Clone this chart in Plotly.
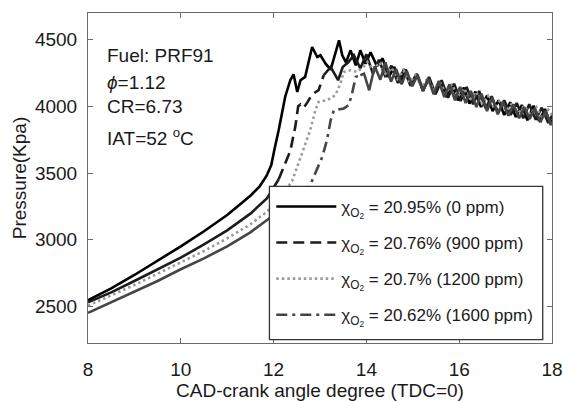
import numpy as np
import plotly.graph_objects as go

# ---------------- data ----------------
labels = [
    "χ<sub>O<sub>2</sub></sub> = 20.95% (0 ppm)",
    "χ<sub>O<sub>2</sub></sub> = 20.76% (900 ppm)",
    "χ<sub>O<sub>2</sub></sub> = 20.7% (1200 ppm)",
    "χ<sub>O<sub>2</sub></sub> = 20.62% (1600 ppm)",
]

x_0ppm = [8, 8.5, 9, 9.5, 10, 10.5, 11, 11.5, 11.7, 11.85, 11.95, 12.02, 12.11, 12.25, 12.36, 12.43,
          12.51, 12.58, 12.68, 12.83, 12.94, 13.01, 13.12, 13.23, 13.41, 13.48, 13.56, 13.66, 13.77,
          13.87, 13.98, 14.09, 14.23, 14.35, 14.48, 14.60, 14.72, 14.85, 14.97, 15.10, 15.22, 15.35,
          15.47, 15.60, 15.72, 15.85, 15.97, 16.10, 16.22, 16.35, 16.47, 16.60, 16.72, 16.85, 16.97,
          17.10, 17.22, 17.35, 17.47, 17.60, 17.72, 17.85, 17.97, 18.08]
p_0ppm = [2545, 2635, 2735, 2840, 2950, 3063, 3185, 3330, 3400, 3480, 3560, 3680, 3822, 4072, 4196, 4240,
          4108, 4196, 4221, 4445, 4370, 4383, 4320, 4276, 4495, 4383, 4330, 4420, 4308,
          4420, 4320, 4405, 4300, 4360, 4220, 4295, 4180, 4275, 4160, 4235, 4120, 4210,
          4095, 4185, 4070, 4165, 4045, 4140, 4020, 4110, 3995, 4080, 3965, 4045, 3935,
          4030, 3920, 4010, 3895, 4005, 3890, 3980, 3865, 3945]

x_900ppm = [8, 8.5, 9, 9.5, 10, 10.5, 11, 11.5, 11.86, 12.11, 12.36, 12.47, 12.53, 12.58, 12.65, 12.72,
            12.83, 12.97, 13.08, 13.23, 13.39, 13.49, 13.61, 13.73, 13.87, 14.00, 14.14, 14.27, 14.41,
            14.54, 14.68, 14.81, 14.95, 15.08, 15.22, 15.35, 15.49, 15.62, 15.76, 15.89, 16.03, 16.16,
            16.30, 16.43, 16.57, 16.70, 16.84, 16.97, 17.11, 17.24, 17.38, 17.51, 17.65, 17.78, 17.92,
            18.05]
p_900ppm = [2530, 2605, 2690, 2775, 2865, 2965, 3070, 3195, 3311, 3453, 3665, 3852, 4001, 4014, 3989, 4026,
            4089, 4121, 4233, 4295, 4196, 4295, 4330, 4383, 4285, 4390, 4245, 4350, 4220,
            4305, 4175, 4280, 4155, 4245, 4115, 4220, 4090, 4195, 4065, 4170, 4040, 4145,
            4015, 4115, 3985, 4075, 3950, 4045, 3935, 4025, 3910, 4015, 3900, 3990, 3875,
            3965]

x_1200ppm = [8, 8.5, 9, 9.5, 10, 10.5, 11, 11.5, 11.86, 12.1, 12.4, 12.61, 12.79, 12.90, 12.97, 13.15,
             13.33, 13.44, 13.51, 13.66, 13.80, 13.92, 14.02, 14.15, 14.28, 14.41, 14.54, 14.67, 14.80,
             14.93, 15.06, 15.19, 15.32, 15.45, 15.58, 15.71, 15.84, 15.97, 16.10, 16.23, 16.36, 16.49,
             16.62, 16.75, 16.88, 17.01, 17.14, 17.27, 17.40, 17.53, 17.66, 17.79, 17.92, 18.05]
p_1200ppm = [2505, 2580, 2660, 2745, 2828, 2915, 3010, 3115, 3211, 3300, 3440, 3652, 3822, 3971, 4033, 4046,
             4083, 4171, 4258, 4270, 4258, 4290, 4333, 4270, 4330, 4245, 4290, 4205, 4270,
             4180, 4235, 4145, 4210, 4120, 4185, 4095, 4165, 4075, 4135, 4050, 4110, 4020,
             4080, 3985, 4045, 3965, 4025, 3945, 4005, 3940, 3995, 3915, 3975, 3910]

x_1600ppm = [8, 8.5, 9, 9.5, 10, 10.5, 11, 11.5, 11.86, 12.3, 12.6, 12.79, 13.05, 13.15, 13.23, 13.30,
             13.51, 13.62, 13.69, 13.77, 13.87, 13.95, 14.06, 14.18, 14.30, 14.41, 14.53, 14.64, 14.76,
             14.87, 14.99, 15.10, 15.22, 15.33, 15.45, 15.56, 15.68, 15.79, 15.91, 16.02, 16.14, 16.25,
             16.37, 16.48, 16.60, 16.71, 16.83, 16.94, 17.06, 17.17, 17.29, 17.40, 17.52, 17.63, 17.75,
             17.86, 17.98, 18.09]
p_1600ppm = [2451, 2530, 2610, 2690, 2778, 2860, 2950, 3055, 3148, 3260, 3340, 3410, 3622, 3747, 3896, 3971,
             3984, 4009, 4096, 4221, 4233, 4245, 4120, 4300, 4200, 4330, 4185, 4280, 4165,
             4265, 4150, 4235, 4115, 4210, 4090, 4190, 4070, 4165, 4045, 4145, 4025, 4115,
             3995, 4095, 3965, 4065, 3940, 4035, 3930, 4015, 3910, 3995, 3905, 3985, 3880,
             3965, 3860, 3940]

x_ticks = [8, 10, 12, 14, 16, 18]
y_ticks = [2500, 3000, 3500, 4000, 4500]

# ---------------- figure ----------------
FONT = "Liberation Sans, Arial, sans-serif"
TXT = "#1a1a1a"
fig = go.Figure()


def seg(xs, ps, lo, hi):
    xa, pa = np.array(xs), np.array(ps)
    m = (xa >= lo) & (xa <= hi)
    return xa[m], pa[m]


# series 1: solid black
fig.add_trace(go.Scatter(x=x_0ppm, y=p_0ppm, mode="lines", name=labels[0], legendgroup="g1",
                         line=dict(color="#000000", width=2.6)))

# series 2: dashed (dense parts render solid as in the original export)
for lo, hi, dash, show in [(12.11, 13.08, "11px,6px", True), (0, 12.11, "solid", False),
                           (13.08, 99, "solid", False)]:
    xs, ps = seg(x_900ppm, p_900ppm, lo, hi)
    fig.add_trace(go.Scatter(x=xs, y=ps, mode="lines", name=labels[1], legendgroup="g2",
                             showlegend=show, line=dict(color="#1c1c1c", width=2.6, dash=dash)))

# series 3: dotted gray
fig.add_trace(go.Scatter(x=x_1200ppm, y=p_1200ppm, mode="lines", name=labels[2], legendgroup="g3",
                         line=dict(color="#9a9a9a", width=2.6, dash="2.5px,3px")))

# series 4: dash-dot dark gray
for lo, hi, dash, show in [(12.6, 13.87, "11px,5px,3px,5px", True), (0, 12.6, "solid", False),
                           (13.87, 99, "solid", False)]:
    xs, ps = seg(x_1600ppm, p_1600ppm, lo, hi)
    fig.add_trace(go.Scatter(x=xs, y=ps, mode="lines", name=labels[3], legendgroup="g4",
                             showlegend=show, line=dict(color="#454545", width=2.6, dash=dash)))

# legend box (opaque, covers curves)
fig.add_shape(type="rect", xref="paper", yref="paper", x0=0.391, x1=0.980, y0=0.010, y1=0.4745,
              line=dict(color="#333333", width=1.3), fillcolor="white", layer="above")

# annotations
notes = [("Fuel: PRF91", 0.8697), ("<i>ϕ</i>=1.12", 0.7879), ("CR=6.73", 0.7167),
         ("IAT=52 <sup>o</sup>C", 0.625)]
for t, yy in notes:
    fig.add_annotation(text=t, xref="paper", yref="paper", x=0.036, y=yy, xanchor="left",
                       yanchor="middle", showarrow=False, font=dict(family=FONT, size=19, color=TXT))

axis_common = dict(showline=True, linecolor="#6a6a6a", linewidth=1, mirror="ticks", ticks="inside",
                   ticklen=5, tickcolor="#6a6a6a", showgrid=False, zeroline=False, automargin=False,
                   tickfont=dict(family=FONT, size=19, color=TXT))

fig.update_layout(
    width=564, height=401,
    margin=dict(l=88, r=12, t=13, b=58),
    paper_bgcolor="white", plot_bgcolor="white",
    showlegend=True,
    legend=dict(x=0.395, y=0.467, xanchor="left", yanchor="top", bgcolor="rgba(0,0,0,0)",
                borderwidth=0, font=dict(family=FONT, size=17, color=TXT),
                tracegroupgap=11, itemwidth=60, traceorder="grouped"),
    xaxis=dict(range=[8, 18], tickvals=x_ticks, ticklabelstandoff=9,
               title=dict(text="CAD-crank angle degree (TDC=0)", standoff=3,
                          font=dict(family=FONT, size=19, color=TXT)), **axis_common),
    yaxis=dict(range=[2225, 4700], tickvals=y_ticks, ticklabelstandoff=6,
               title=dict(text="Pressure(Kpa)", standoff=3,
                          font=dict(family=FONT, size=19, color=TXT)), **axis_common),
)

fig.write_html("out.html")
